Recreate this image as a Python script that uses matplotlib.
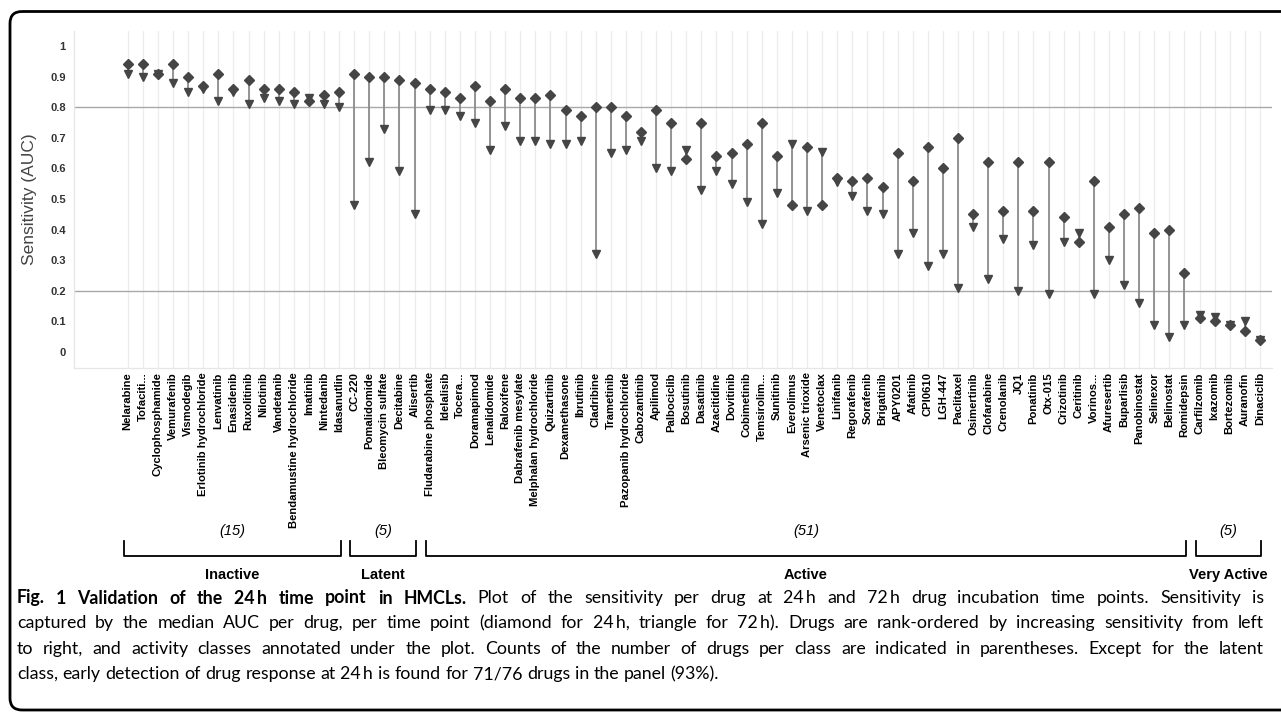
import matplotlib
matplotlib.use("Agg")
import matplotlib.pyplot as plt
import matplotlib.transforms as mtransforms
import matplotlib.patches as mpatches
from matplotlib.lines import Line2D
import numpy as np

plt.rcParams["font.family"] = ["Liberation Sans", "DejaVu Sans"]

# ── data ──────────────────────────────────────────────────────────────────────
drugs = [
    "Nelarabine", "Tofaciti...", "Cyclophosphamide", "Vemurafenib", "Vismodegib",
    "Erlotinib hydrochloride", "Lenvatinib", "Enasidenib", "Ruxolitinib", "Nilotinib",
    "Vandetanib", "Bendamustine hydrochloride", "Imatinib", "Nintedanib", "Idasanutlin",
    "CC-220", "Pomalidomide", "Bleomycin sulfate", "Decitabine", "Alisertib",
    "Fludarabine phosphate", "Idelalisib", "Tocera...", "Doramapimod", "Lenalidomide",
    "Raloxifene", "Dabrafenib mesylate", "Melphalan hydrochloride", "Quizartinib",
    "Dexamethasone", "Ibrutinib", "Cladribine", "Trametinib", "Pazopanib hydrochloride",
    "Cabozantinib", "Apilimod", "Palbociclib", "Bosutinib", "Dasatinib", "Azacitidine",
    "Dovitinib", "Cobimetinib", "Temsirolim...", "Sunitinib", "Everolimus",
    "Arsenic trioxide", "Venetoclax", "Linifanib", "Regorafenib", "Sorafenib",
    "Brigatinib", "APY0201", "Afatinib", "CPI0610", "LGH-447", "Paclitaxel",
    "Osimertinib", "Clofarabine", "Crenolanib", "JQ1", "Ponatinib", "Otx-015",
    "Crizotinib", "Ceritinib", "Vorinos...", "Afuresertib", "Buparlisib",
    "Panobinostat", "Selinexor", "Belinostat", "Romidepsin", "Carfilzomib",
    "Ixazomib", "Bortezomib", "Auranofin", "Dinaciclib",
]

# median AUC at 24 h (diamond)
auc_24h = [
    0.94, 0.94, 0.91, 0.94, 0.90, 0.87, 0.91, 0.86, 0.89, 0.86,
    0.86, 0.85, 0.82, 0.84, 0.85,
    0.91, 0.90, 0.90, 0.89, 0.88,
    0.86, 0.85, 0.83, 0.87, 0.82, 0.86, 0.83, 0.83, 0.84, 0.79,
    0.77, 0.80, 0.80, 0.77, 0.72, 0.79, 0.75, 0.63, 0.75, 0.64,
    0.65, 0.68, 0.75, 0.64, 0.48, 0.67, 0.48, 0.57, 0.56, 0.57,
    0.54, 0.65, 0.56, 0.67, 0.60, 0.70, 0.45, 0.62, 0.46, 0.62,
    0.46, 0.62, 0.44, 0.36, 0.56, 0.41, 0.45, 0.47, 0.39, 0.40,
    0.26,
    0.11, 0.10, 0.09, 0.07, 0.04,
]

# median AUC at 72 h (triangle)
auc_72h = [
    0.91, 0.90, 0.91, 0.88, 0.85, 0.86, 0.82, 0.85, 0.81, 0.83,
    0.82, 0.81, 0.83, 0.81, 0.80,
    0.48, 0.62, 0.73, 0.59, 0.45,
    0.79, 0.79, 0.77, 0.75, 0.66, 0.74, 0.69, 0.69, 0.68, 0.68,
    0.69, 0.32, 0.65, 0.66, 0.69, 0.60, 0.59, 0.66, 0.53, 0.59,
    0.55, 0.49, 0.42, 0.52, 0.68, 0.46, 0.655, 0.555, 0.51, 0.46,
    0.45, 0.32, 0.39, 0.28, 0.32, 0.21, 0.41, 0.24, 0.37, 0.20,
    0.35, 0.19, 0.36, 0.39, 0.19, 0.30, 0.22, 0.16, 0.09, 0.05,
    0.09,
    0.12, 0.115, 0.09, 0.10, 0.04,
]

classes = ["Inactive", "Latent", "Active", "Very Active"]
class_counts = [15, 5, 51, 5]

caption_bold = "Fig. 1 Validation of the 24 h time point in HMCLs."
caption_lines = [
    "Plot of the sensitivity per drug at 24 h and 72 h drug incubation time points. Sensitivity is",
    "captured by the median AUC per drug, per time point (diamond for 24 h, triangle for 72 h). "
    "Drugs are rank-ordered by increasing sensitivity from left",
    "to right, and activity classes annotated under the plot. Counts of the number of drugs per "
    "class are indicated in parentheses. Except for the latent",
    "class, early detection of drug response at 24 h is found for 71/76 drugs in the panel (93%).",
]

W, H = 1281, 712
fig = plt.figure(figsize=(W / 100, H / 100), dpi=100)
# pixel coordinates, origin top-left
px = mtransforms.Affine2D().scale(1, -1).translate(0, H).scale(1 / W, 1 / H) + fig.transFigure

ax = fig.add_axes([74 / W, 1 - 368 / H, (1272 - 74) / W, (368 - 31) / H])
x = np.arange(len(drugs))
ax.set_xlim(-3.56, 75.8)
ax.set_ylim(-0.052, 1.049)

for xi in x:
    ax.axvline(xi, color="#ececec", lw=0.9, zorder=0)
for yl in (0.8, 0.2):
    ax.axhline(yl, color="#a8a8a8", lw=1.0, zorder=1)

ax.vlines(x, auc_24h, auc_72h, color="#8c8c8c", lw=1.3, zorder=2)
ax.plot(x, auc_72h, ls="none", marker="v", ms=6.2, color="#454545", mec="#454545", zorder=3)
ax.plot(x, auc_24h, ls="none", marker="D", ms=5.2, color="#454545", mec="#454545", zorder=4)

ax.set_yticks(np.round(np.arange(0, 1.01, 0.1), 1))
ax.set_yticklabels(["0"] + ["%.1f" % v for v in np.arange(0.1, 0.95, 0.1)] + ["1"],
                   fontsize=8, fontweight="bold", color="#333333")
ax.set_xticks(x)
ax.set_xticklabels(drugs, rotation=90, fontsize=8.1, fontweight="bold", va="top")
ax.tick_params(axis="both", length=0)
ax.tick_params(axis="x", pad=3)
ax.tick_params(axis="y", pad=6)
ax.set_ylabel("Sensitivity (AUC)", fontsize=12.5, color="#444444")
ax.yaxis.set_label_coords(-0.031, 0.5)

for s in ("top", "right"):
    ax.spines[s].set_visible(False)
for s in ("left", "bottom"):
    ax.spines[s].set_color("#e6e6e6")
    ax.spines[s].set_linewidth(0.9)

# ── class brackets ────────────────────────────────────────────────────────────
bt = mtransforms.blended_transform_factory(ax.transData, px)
start = 0
for name, n in zip(classes, class_counts):
    x0, x1 = start - 0.25, start + n - 1 + 0.1
    fig.add_artist(Line2D([x0, x0, x1, x1], [541, 556, 556, 541], color="black",
                          lw=1.3, transform=bt))
    xc = (x0 + x1) / 2
    fig.text(xc, 531, "(%d)" % n, transform=bt, ha="center", va="center",
             fontsize=10.5, style="italic")
    fig.text(xc, 575, name, transform=bt, ha="center", va="center",
             fontsize=10.5, fontweight="bold")
    start += n

# ── frame ─────────────────────────────────────────────────────────────────────
frame = mpatches.FancyBboxPatch((10, 11.5), 1300, 698.5,
                                boxstyle="round,pad=0,rounding_size=12",
                                fc="none", ec="black", lw=2.0, transform=px)
fig.add_artist(frame)

# ── justified caption ─────────────────────────────────────────────────────────
renderer = fig.canvas.get_renderer()
cap_font = dict(family=["Lato", "DejaVu Sans"], fontsize=12.8)
left, right = 17, 1264
line_y = [598, 623, 649, 674]


def tokens(text, bold=False):
    text = text.replace("24 h", "24\x00h").replace("72 h", "72\x00h")
    return [(w.replace("\x00", "\u2009"), bold) for w in text.split(" ")]


for i, (line, yy) in enumerate(zip(caption_lines, line_y)):
    toks = tokens(caption_bold, True) + tokens(line) if i == 0 else tokens(line)
    arts = []
    widths = []
    for w, b in toks:
        t = fig.text(0, yy, w, transform=px, va="center", ha="left",
                     fontweight="bold" if b else "normal", **cap_font)
        arts.append(t)
        widths.append(t.get_window_extent(renderer).width)
    if i < len(caption_lines) - 1:
        gap = (right - left - sum(widths)) / (len(toks) - 1)
    else:
        gap = 0.26 * cap_font["fontsize"] * 100 / 72
    xx = left
    for t, wdt in zip(arts, widths):
        t.set_x(xx)
        xx += wdt + gap

fig.savefig("out.png", dpi=100)
